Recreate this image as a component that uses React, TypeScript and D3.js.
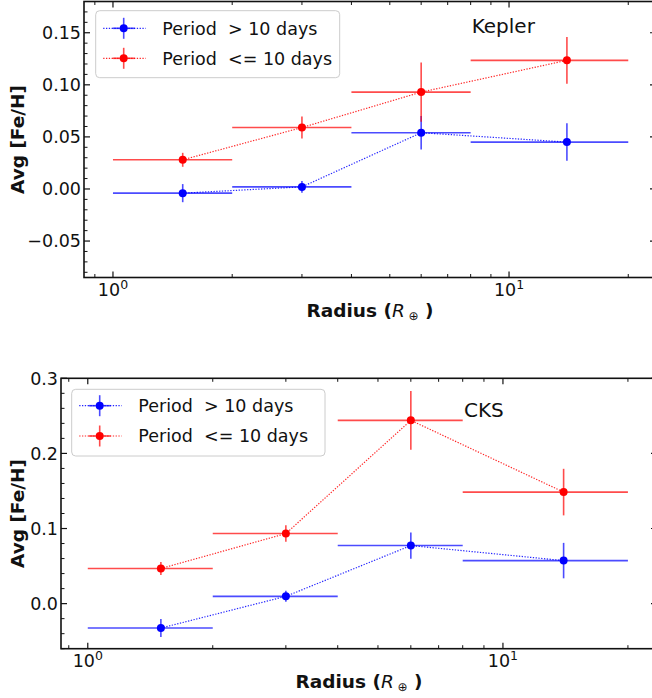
import React from 'react';
import * as d3 from 'd3';

// ---------- data ----------
const radiusCenters = [1.5, 3, 6, 14];
const binLow = [1, 2, 4, 8];
const binHigh = [2, 4, 8, 20];

const keplerLongFeH = [-0.004, 0.002, 0.054, 0.045];
const keplerLongErr = [0.0087, 0.0056, 0.016, 0.018];
const keplerShortFeH = [0.028, 0.059, 0.093, 0.1235];
const keplerShortErr = [0.0067, 0.0106, 0.0285, 0.0224];

const cksLongFeH = [-0.0325, 0.0097, 0.0773, 0.0573];
const cksLongErr = [0.012, 0.0073, 0.0175, 0.0236];
const cksShortFeH = [0.0467, 0.0933, 0.244, 0.1485];
const cksShortErr = [0.0087, 0.011, 0.039, 0.031];

const seriesLabels = ['Period  > 10 days', 'Period  <= 10 days'];
const seriesColors = ['#0000ff', '#ff0000'];

const xMajorTicks = [1, 10];
const xMajorExp = ['0', '1'];
const xMinorTicks = [0.9, 2, 3, 4, 5, 6, 7, 8, 9, 20];
const keplerYTicks = [-0.05, 0, 0.05, 0.1, 0.15];
const cksYTicks = [0, 0.1, 0.2, 0.3];

const FONT = "'DejaVu Sans', sans-serif";

type Series = { y: number[]; err: number[]; color: string; label: string };

type PanelProps = {
  box: { l: number; r: number; t: number; b: number };
  xDomain: [number, number];
  yDomain: [number, number];
  yTicks: number[];
  yMinorStep: number;
  yFmt: string;
  series: Series[];
  title: string;
  titlePos: [number, number];
  legend: { x: number; y: number; w: number; h: number; row0: number; row1: number };
};

function Panel({ box, xDomain, yDomain, yTicks, yMinorStep, yFmt, series, title, titlePos, legend }: PanelProps) {
  const x = d3.scaleLog().domain(xDomain).range([box.l, box.r]);
  const y = d3.scaleLinear().domain(yDomain).range([box.b, box.t]);
  const fmt = d3.format(yFmt);
  const yMinor = d3
    .range(Math.ceil(yDomain[0] / yMinorStep) * yMinorStep, yDomain[1] + 1e-9, yMinorStep)
    .filter((v) => !yTicks.some((t) => Math.abs(t - v) < 1e-9));
  const majorLen = 6;
  const minorLen = 3.5;
  const tickStroke = '#111';
  const line = d3
    .line<number>()
    .x((_, i) => x(radiusCenters[i]))
    .y((d) => y(d));
  const cx = (box.l + box.r) / 2;
  const cy = (box.t + box.b) / 2;
  const rows = [legend.row0, legend.row1];

  return (
    <g fontFamily={FONT}>
      {/* series */}
      {series.map((s, si) => (
        <g key={si}>
          <path
            d={line(s.y) || ''}
            fill="none"
            stroke={s.color}
            strokeWidth={1.2}
            strokeDasharray="1.3,1.5"
            opacity={0.85}
          />
          {s.y.map((v, i) => (
            <g key={i} stroke={s.color} strokeWidth={1.6} opacity={0.7}>
              <line x1={x(binLow[i])} x2={x(binHigh[i])} y1={y(v)} y2={y(v)} />
              <line x1={x(radiusCenters[i])} x2={x(radiusCenters[i])} y1={y(v - s.err[i])} y2={y(v + s.err[i])} />
            </g>
          ))}
          {s.y.map((v, i) => (
            <circle key={i} cx={x(radiusCenters[i])} cy={y(v)} r={4} fill={s.color} />
          ))}
        </g>
      ))}

      {/* spines */}
      <rect x={box.l} y={box.t} width={box.r - box.l} height={box.b - box.t} fill="none" stroke="#111" strokeWidth={1.6} />

      {/* x ticks */}
      {xMajorTicks.map((t, i) => (
        <g key={'xm' + i}>
          <line x1={x(t)} x2={x(t)} y1={box.b} y2={box.b - majorLen} stroke={tickStroke} strokeWidth={1.2} />
          <line x1={x(t)} x2={x(t)} y1={box.t} y2={box.t + majorLen} stroke={tickStroke} strokeWidth={1.2} />
          <text x={x(t)} y={box.b + 18.5} textAnchor="middle" fontSize={17.5} fill="#111">
            10<tspan fontSize={12.5} dy={-7}>{xMajorExp[i]}</tspan>
          </text>
        </g>
      ))}
      {xMinorTicks.map((t, i) => (
        <g key={'xn' + i} stroke={tickStroke} strokeWidth={1}>
          <line x1={x(t)} x2={x(t)} y1={box.b} y2={box.b - minorLen} />
          <line x1={x(t)} x2={x(t)} y1={box.t} y2={box.t + minorLen} />
        </g>
      ))}

      {/* y ticks */}
      {yTicks.map((t, i) => (
        <g key={'ym' + i}>
          <line x1={box.l} x2={box.l + majorLen} y1={y(t)} y2={y(t)} stroke={tickStroke} strokeWidth={1.2} />
          <line x1={box.r} x2={box.r - majorLen} y1={y(t)} y2={y(t)} stroke={tickStroke} strokeWidth={1.2} />
          <text x={box.l - 3} y={y(t)} dy="0.36em" textAnchor="end" fontSize={17.5} fill="#111">
            {fmt(t)}
          </text>
        </g>
      ))}
      {yMinor.map((t, i) => (
        <g key={'yn' + i} stroke={tickStroke} strokeWidth={1}>
          <line x1={box.l} x2={box.l + minorLen} y1={y(t)} y2={y(t)} />
          <line x1={box.r} x2={box.r - minorLen} y1={y(t)} y2={y(t)} />
        </g>
      ))}

      {/* axis labels */}
      <text x={cx} y={box.b + 39} textAnchor="middle" fontSize={18.5} fontWeight="bold" fill="#111">
        Radius (<tspan fontStyle="italic" fontWeight="normal">R</tspan>
        <tspan fontWeight="normal" fontSize={12} dy={3}>{' \u2295'}</tspan>
        <tspan dy={-3}>{' )'}</tspan>
      </text>
      <text
        transform={`translate(24,${cy}) rotate(-90)`}
        textAnchor="middle"
        fontSize={18.5}
        fontWeight="bold"
        fill="#111"
      >
        Avg [Fe/H]
      </text>

      {/* title */}
      <text x={titlePos[0]} y={titlePos[1]} fontSize={20} fill="#111">
        {title}
      </text>

      {/* legend */}
      <rect
        x={legend.x}
        y={legend.y}
        width={legend.w}
        height={legend.h}
        rx={4}
        fill="#fff"
        fillOpacity={0.8}
        stroke="#cccccc"
        strokeWidth={1}
      />
      {series.map((s, si) => {
        const ry = legend.y + rows[si];
        const mx = legend.x + 28;
        return (
          <g key={'lg' + si}>
            <line
              x1={legend.x + 7.5}
              x2={legend.x + 50}
              y1={ry}
              y2={ry}
              stroke={s.color}
              strokeWidth={1.2}
              strokeDasharray="1.3,1.5"
              opacity={0.85}
            />
            <g stroke={s.color} strokeWidth={1.6} opacity={0.7}>
              <line x1={mx - 11} x2={mx + 11} y1={ry} y2={ry} />
              <line x1={mx} x2={mx} y1={ry - 10.5} y2={ry + 10.5} />
            </g>
            <circle cx={mx} cy={ry} r={4} fill={s.color} />
            <text x={legend.x + 66.6} y={ry + 6.2} fontSize={17.5} fill="#111" style={{ whiteSpace: 'pre' }}>
              {s.label}
            </text>
          </g>
        );
      })}
    </g>
  );
}

export default function App() {
  const keplerSeries: Series[] = [
    { y: keplerLongFeH, err: keplerLongErr, color: seriesColors[0], label: seriesLabels[0] },
    { y: keplerShortFeH, err: keplerShortErr, color: seriesColors[1], label: seriesLabels[1] },
  ];
  const cksSeries: Series[] = [
    { y: cksLongFeH, err: cksLongErr, color: seriesColors[0], label: seriesLabels[0] },
    { y: cksShortFeH, err: cksShortErr, color: seriesColors[1], label: seriesLabels[1] },
  ];
  return (
    <svg
      width={652}
      height={698}
      style={{ position: 'absolute', left: 0, top: 0, background: '#fff' }}
    >
      <rect width={652} height={698} fill="#fff" />
      <Panel
        box={{ l: 84, r: 656, t: 1.5, b: 277.5 }}
        xDomain={[0.845, 23.5]}
        yDomain={[-0.085, 0.18]}
        yTicks={keplerYTicks}
        yMinorStep={0.01}
        yFmt=".2f"
        series={keplerSeries}
        title="Kepler"
        titlePos={[471.7, 33.3]}
        legend={{ x: 95.7, y: 10.7, w: 244, h: 67, row0: 17.6, row1: 47.6 }}
      />
      <Panel
        box={{ l: 61, r: 657, t: 378.3, b: 648.7 }}
        xDomain={[0.862, 23.5]}
        yDomain={[-0.06, 0.3]}
        yTicks={cksYTicks}
        yMinorStep={0.02}
        yFmt=".1f"
        series={cksSeries}
        title="CKS"
        titlePos={[464, 416.7]}
        legend={{ x: 71.7, y: 389.3, w: 253.3, h: 66.7, row0: 16.4, row1: 46.7 }}
      />
    </svg>
  );
}
